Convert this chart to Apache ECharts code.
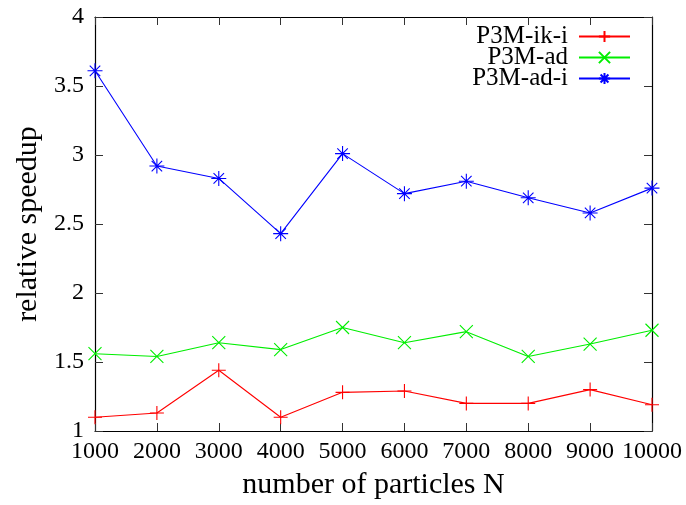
<!DOCTYPE html>
<html>
<head>
<meta charset="utf-8">
<script src="https://cdn.jsdelivr.net/npm/echarts@6/dist/echarts.min.js"></script>
<style>
  html, body { margin: 0; padding: 0; background: #fff; }
  #chart { width: 686px; height: 505px; }
</style>
</head>
<body>
<div id="chart"></div>
<script>
// Particle counts N
const particles = [1000, 2000, 3000, 4000, 5000, 6000, 7000, 8000, 9000, 10000];
// Relative speedup per method
const p3mIkI = [1.10, 1.13, 1.44, 1.10, 1.28, 1.29, 1.20, 1.20, 1.30, 1.19];
const p3mAd  = [1.56, 1.54, 1.64, 1.59, 1.75, 1.64, 1.72, 1.54, 1.63, 1.73];
const p3mAdI = [3.61, 2.92, 2.83, 2.43, 3.01, 2.72, 2.81, 2.69, 2.58, 2.76];
const seriesNames = ['P3M-ik-i', 'P3M-ad', 'P3M-ad-i'];

const FONT = '"Liberation Serif", "DejaVu Serif", serif';

// Point markers drawn as stroked paths: plus, cross, asterisk
const SYM_PLUS = 'path://M5,0L5,10M0,5L10,5';
const SYM_CROSS = 'path://M0,0L10,10M0,10L10,0';
const SYM_STAR = 'path://M5,0L5,10M0,5L10,5M1.5,1.5L8.5,8.5M1.5,8.5L8.5,1.5';

function pairs(ys) { return particles.map((x, i) => [x, ys[i]]); }

function makeSeries(name, ys, color, symbol, size) {
  return {
    name: name,
    type: 'line',
    data: pairs(ys),
    symbol: symbol,
    symbolSize: size,
    showAllSymbol: true,
    lineStyle: { color: color, width: 1.1 },
    itemStyle: { color: color, borderColor: color, borderWidth: 1.1 },
    emphasis: { disabled: true },
    animation: false
  };
}

const tickCommon = { show: true, inside: true, length: 8, lineStyle: { color: '#333', width: 1 } };
const axisLineCommon = { show: true, onZero: false, lineStyle: { color: '#000', width: 1.2 } };

function legendFor(idx, top) {
  return {
    data: [seriesNames[idx]],
    right: 55,
    top: top,
    padding: 0,
    align: 'right',
    itemWidth: 51,
    itemHeight: 14,
    selectedMode: false,
    textStyle: { fontFamily: FONT, fontSize: 25, color: '#000', padding: [0, 6, 0, 0] }
  };
}

const chart = echarts.init(document.getElementById('chart'), null, { renderer: 'canvas' });
chart.setOption({
  backgroundColor: '#fff',
  animation: false,
  grid: { left: 95, right: 34, top: 17, bottom: 68, containLabel: false },
  legend: [legendFor(0, 24), legendFor(1, 45), legendFor(2, 66)],
  xAxis: [
    {
      type: 'value', min: 1000, max: 10000, interval: 1000, position: 'bottom',
      name: 'number of particles N', nameLocation: 'middle', nameGap: 39,
      nameTextStyle: { fontFamily: FONT, fontSize: 30, color: '#000' },
      axisLine: axisLineCommon, axisTick: tickCommon, splitLine: { show: false },
      axisLabel: { fontFamily: FONT, fontSize: 24, color: '#000', margin: 9, formatter: (v) => String(v) }
    },
    {
      type: 'value', min: 1000, max: 10000, interval: 1000, position: 'top',
      axisLine: axisLineCommon, axisTick: tickCommon, splitLine: { show: false },
      axisLabel: { show: false }
    }
  ],
  yAxis: [
    {
      type: 'value', min: 1, max: 4, interval: 0.5, position: 'left',
      name: 'relative speedup', nameLocation: 'middle', nameGap: 50,
      nameTextStyle: { fontFamily: FONT, fontSize: 30, color: '#000' },
      axisLine: axisLineCommon, axisTick: tickCommon, splitLine: { show: false },
      axisLabel: { fontFamily: FONT, fontSize: 24, color: '#000', margin: 11 }
    },
    {
      type: 'value', min: 1, max: 4, interval: 0.5, position: 'right',
      axisLine: axisLineCommon, axisTick: tickCommon, splitLine: { show: false },
      axisLabel: { show: false }
    }
  ],
  series: [
    makeSeries(seriesNames[0], p3mIkI, '#ff0000', SYM_PLUS, 14),
    makeSeries(seriesNames[1], p3mAd, '#00ee00', SYM_CROSS, 13),
    makeSeries(seriesNames[2], p3mAdI, '#0000ff', SYM_STAR, 15)
  ]
});
</script>
</body>
</html>
